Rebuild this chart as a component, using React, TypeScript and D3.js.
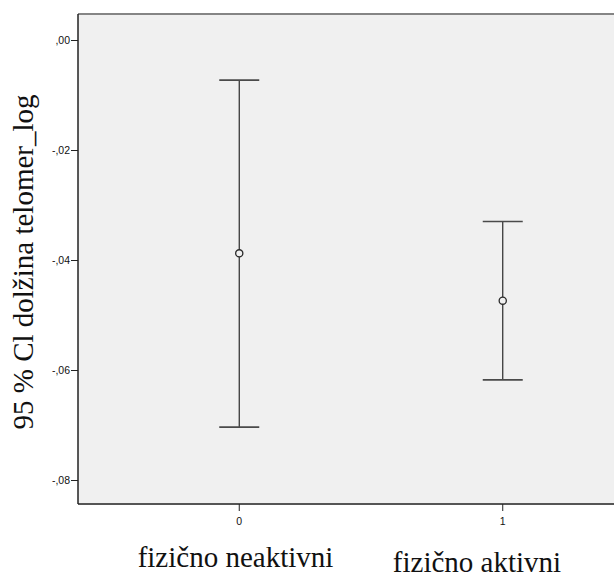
import React from "react";
import * as d3 from "d3";

// Groups on the x axis (coded 0 / 1) and their display names
const groupCodes = [0, 1];
const groupNames = ["fizično neaktivni", "fizično aktivni"];

// 95 % confidence interval of log telomere length per group
const means = [-0.0387, -0.0473];
const lowerCI = [-0.0703, -0.0617];
const upperCI = [-0.0072, -0.0329];

// Y axis ticks and their labels
const yTicks = [0, -0.02, -0.04, -0.06, -0.08];
const yTickLabels = [",00", "-,02", "-,04", "-,06", "-,08"];

const yAxisTitle = "95 % Cl dolžina telomer_log";

const W = 614;
const H = 577;

export default function App() {
  const plotLeft = 78;
  const plotTop = 14;
  const plotBottom = 504;
  const plotRight = 700;

  const x = d3.scaleLinear().domain([-0.612, 1.612]).range([plotLeft, 664]);
  const y = d3.scaleLinear().domain([0.00482, -0.08427]).range([plotTop, plotBottom]);

  const capHalf = 20;
  const tickFont = "'Liberation Sans', Arial, sans-serif";
  const serif = "'Liberation Serif', 'Times New Roman', serif";

  return (
    <svg
      width={W}
      height={H}
      style={{ position: "absolute", left: 0, top: 0, background: "#ffffff" }}
    >
      {/* plot area */}
      <rect
        x={plotLeft}
        y={plotTop}
        width={plotRight - plotLeft}
        height={plotBottom - plotTop}
        fill="#f0f0f0"
        stroke="none"
      />
      <line x1={plotLeft} x2={plotRight} y1={plotTop} y2={plotTop} stroke="#858585" strokeWidth={2} />
      <line x1={plotLeft} x2={plotRight} y1={plotBottom} y2={plotBottom} stroke="#555" strokeWidth={2} />
      <line x1={plotLeft} x2={plotLeft} y1={plotTop} y2={plotBottom} stroke="#222" strokeWidth={1.5} />

      {/* y ticks */}
      {yTicks.map((t, i) => (
        <g key={"yt" + i}>
          <line x1={plotLeft - 7} x2={plotLeft} y1={y(t)} y2={y(t)} stroke="#222" strokeWidth={1} />
          <text
            x={plotLeft - 8}
            y={y(t)}
            dy="0.35em"
            textAnchor="end"
            fontFamily={tickFont}
            fontSize={10.5}
            fill="#111"
          >
            {yTickLabels[i]}
          </text>
        </g>
      ))}

      {/* x ticks */}
      {groupCodes.map((c, i) => (
        <g key={"xt" + i}>
          <line x1={x(c)} x2={x(c)} y1={plotBottom} y2={plotBottom + 7} stroke="#222" strokeWidth={1} />
          <text
            x={x(c)}
            y={plotBottom + 21}
            textAnchor="middle"
            fontFamily={tickFont}
            fontSize={10.5}
            fill="#111"
          >
            {c}
          </text>
        </g>
      ))}

      {/* error bars */}
      {groupCodes.map((c, i) => {
        const cx = x(c);
        return (
          <g key={"eb" + i}>
            <line x1={cx} x2={cx} y1={y(upperCI[i])} y2={y(lowerCI[i])} stroke="#2a2a2a" strokeWidth={1.2} />
            <line x1={cx - capHalf} x2={cx + capHalf} y1={y(upperCI[i])} y2={y(upperCI[i])} stroke="#4a4a4a" strokeWidth={1.6} />
            <line x1={cx - capHalf} x2={cx + capHalf} y1={y(lowerCI[i])} y2={y(lowerCI[i])} stroke="#4a4a4a" strokeWidth={1.6} />
            <circle cx={cx} cy={y(means[i])} r={3.6} fill="#f0f0f0" stroke="#2a2a2a" strokeWidth={1.3} />
          </g>
        );
      })}

      {/* y axis title */}
      <text
        transform={`translate(33, 262) rotate(-90)`}
        textAnchor="middle"
        fontFamily={serif}
        fontSize={29}
        fill="#111"
      >
        {yAxisTitle}
      </text>

      {/* group names */}
      <text x={235.5} y={567} textAnchor="middle" fontFamily={serif} fontSize={29} fill="#111">
        {groupNames[0]}
      </text>
      <text x={477} y={572} textAnchor="middle" fontFamily={serif} fontSize={29} fill="#111">
        {groupNames[1]}
      </text>
    </svg>
  );
}
